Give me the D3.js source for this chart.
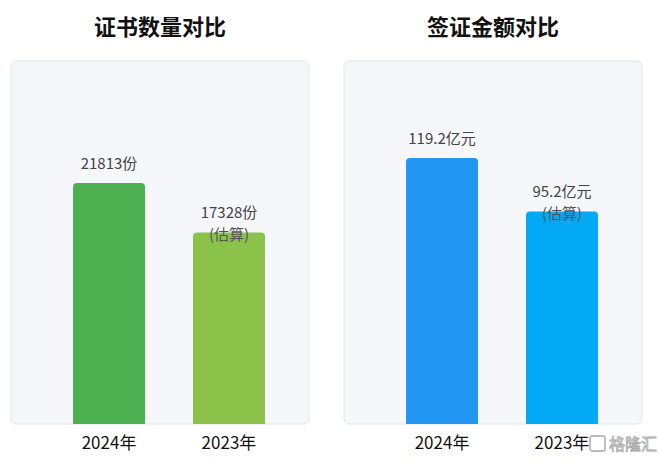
<!DOCTYPE html>
<html lang="zh">
<head>
<meta charset="utf-8">
<script src="https://cdn.jsdelivr.net/npm/d3@7"></script>
<style>
  body { margin: 0; background: #fff; }
  text { font-family: "Noto Sans CJK SC", "Noto Sans", sans-serif; }
</style>
</head>
<body>
<script>
  // data
  const years = ["2024年", "2023年"];
  const certCounts = [21813, 17328];
  const certLabels = ["21813份", "17328份"];
  const visaAmounts = [119.2, 95.2];
  const visaLabels = ["119.2亿元", "95.2亿元"];
  const estimated = [false, true];
  const titles = ["证书数量对比", "签证金额对比"];

  const w = 660, h = 465;
  const svg = d3.select("body").append("svg").attr("width", w).attr("height", h);

  // rounded-top bar path
  function topRounded(x, y, bw, bh, r) {
    return "M" + x + "," + (y + bh) + "V" + (y + r) +
      "Q" + x + "," + y + " " + (x + r) + "," + y +
      "H" + (x + bw - r) + "Q" + (x + bw) + "," + y + " " + (x + bw) + "," + (y + r) +
      "V" + (y + bh) + "Z";
  }

  function panel(left, title, values, labels, yMax, colors) {
    const g = svg.append("g");
    const top = 61, bottom = 424, pw = 298;

    g.append("rect")
      .attr("x", left).attr("y", top)
      .attr("width", pw).attr("height", bottom - top)
      .attr("rx", 5)
      .attr("fill", "#f6f7fa")
      .attr("stroke", "#e4e6ea");

    g.append("text")
      .attr("x", left + pw / 2).attr("y", 35)
      .attr("text-anchor", "middle")
      .attr("font-size", 22).attr("font-weight", "bold")
      .attr("fill", "#111")
      .text(title);

    const x = d3.scaleBand()
      .domain(years)
      .range([left + 18, left + pw])
      .paddingInner(0.4).paddingOuter(0.367);

    const y = d3.scaleLinear()
      .domain([0, yMax])
      .range([bottom, top]);

    g.selectAll("path.bar")
      .data(values)
      .enter()
      .append("path")
      .attr("class", "bar")
      .attr("fill", (d, i) => colors[i])
      .attr("d", (d, i) => topRounded(x(years[i]), y(d), x.bandwidth(), bottom - y(d), 4));

    g.selectAll("text.val")
      .data(values)
      .enter()
      .append("text")
      .attr("class", "val")
      .attr("x", (d, i) => x(years[i]) + x.bandwidth() / 2)
      .attr("y", (d, i) => y(d) - (estimated[i] ? 15 : 14))
      .attr("text-anchor", "middle")
      .attr("font-size", 15)
      .attr("fill", "#444")
      .text((d, i) => labels[i]);

    g.selectAll("text.est")
      .data(values.filter((d, i) => estimated[i]))
      .enter()
      .append("text")
      .attr("class", "est")
      .attr("x", x(years[1]) + x.bandwidth() / 2)
      .attr("y", d => y(d) + 7)
      .attr("text-anchor", "middle")
      .attr("font-size", 15)
      .attr("fill", "#555")
      .text("(估算)");

    const xAxis = d3.axisBottom(x).tickSize(0).tickPadding(0);
    const ax = g.append("g")
      .attr("transform", "translate(0," + (bottom + 25) + ")")
      .call(xAxis);
    ax.select(".domain").remove();
    ax.selectAll("text")
      .attr("font-size", 17)
      .attr("fill", "#111")
      .attr("dy", 0);
  }

  panel(11, titles[0], certCounts, certLabels, 32850, ["#4caf50", "#8bc34a"]);
  panel(344, titles[1], visaAmounts, visaLabels, 162.7, ["#2196f3", "#03a9f4"]);

  // watermark
  const wm = svg.append("g").attr("transform", "translate(590,436)");
  wm.append("rect").attr("x", 0).attr("y", 0).attr("width", 15).attr("height", 15).attr("rx", 2)
    .attr("fill", "none").attr("stroke", "#bbb").attr("stroke-width", 1.8);
  wm.append("text").attr("x", 19).attr("y", 14)
    .attr("font-size", 16)
    .attr("fill", "#fff").attr("stroke", "#aaa").attr("stroke-width", 0.8)
    .text("格隆汇");
</script>
</body>
</html>
